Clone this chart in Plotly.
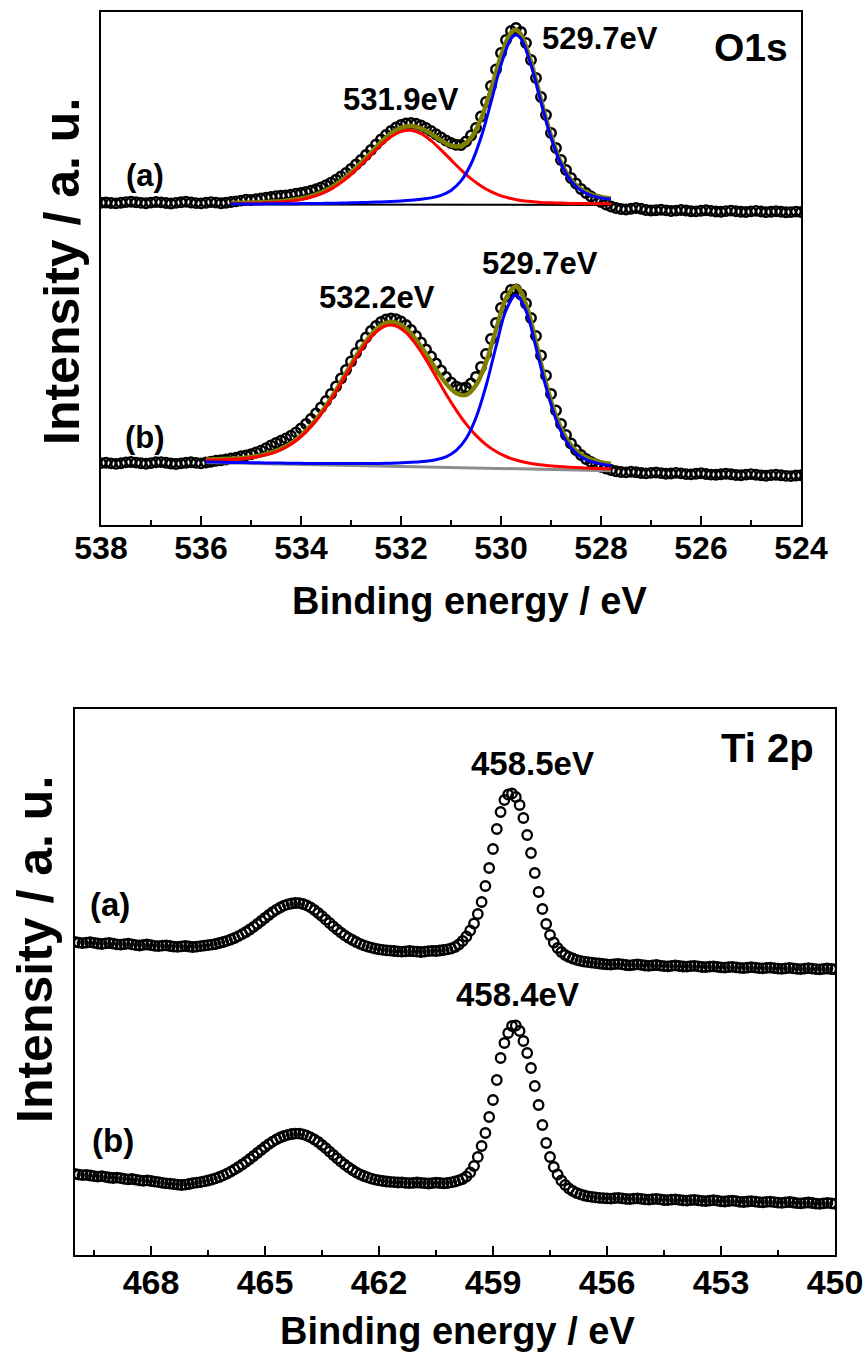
import numpy as np
import plotly.graph_objects as go

W, H = 865, 1358
FONT = "Liberation Sans, Arial, Helvetica, sans-serif"

# ---------------- O1s spectra (binding energy 538.0 -> 524.0 eV, step 0.1) ----------------
o1s_a = [
    318.3, 318.5, 318.0, 317.6, 318.2, 318.9, 319.3, 318.7, 318.1, 317.8,
    318.4, 319.0, 318.6, 318.0, 317.5, 318.1, 318.8, 319.2, 318.5, 317.9,
    317.6, 318.3, 318.9, 318.4, 317.8, 318.2, 319.0, 319.6, 320.4, 321.2,
    321.0, 321.8, 322.6, 323.4, 324.0, 324.9, 325.3, 325.6, 326.4, 327.2,
    328.0, 329.0, 330.3, 331.8, 333.6, 335.8, 338.3, 341.2, 344.5, 348.0,
    352.0, 356.5, 361.0, 366.0, 371.0, 376.5, 381.5, 386.0, 390.0, 393.5,
    396.0, 397.5, 398.0, 397.2, 395.5, 393.0, 390.0, 386.8, 383.6, 380.5,
    378.0, 376.2, 376.0, 379.5, 385.5, 393.0, 404.5, 419.0, 435.0, 451.5,
    468.0, 481.0, 490.0, 493.0, 489.0, 478.0, 461.0, 443.0, 424.0, 406.0,
    388.0, 373.0, 361.0, 351.0, 343.0, 337.5, 332.0, 328.0, 324.5, 321.5,
    319.0, 316.5, 314.5, 313.0, 312.0, 311.5, 312.3, 313.0, 312.2, 311.0,
    310.5, 310.8, 311.3, 310.6, 310.0, 310.4, 311.0, 310.5, 309.8, 309.6,
    310.2, 310.7, 310.1, 309.5, 309.3, 309.9, 310.4, 309.8, 309.2, 309.0,
    309.6, 310.1, 309.5, 308.9, 309.2, 309.8, 309.3, 308.7, 308.9, 309.4,
    309.0,
]
o1s_b = [
    57.9, 58.2, 57.6, 57.1, 57.8, 58.6, 59.0, 58.4, 57.7, 57.3,
    57.9, 58.7, 58.9, 58.2, 57.5, 57.0, 57.6, 58.3, 58.8, 58.1,
    57.6, 58.5, 59.3, 60.2, 60.8, 61.5, 62.6, 63.4, 64.8, 65.6,
    66.8, 68.5, 70.4, 72.8, 75.5, 78.0, 80.2, 82.6, 85.3, 88.6,
    92.5, 97.0, 102.0, 107.5, 113.5, 120.0, 127.0, 134.5, 142.5, 151.0,
    159.5, 168.0, 176.0, 183.5, 190.0, 195.0, 199.0, 201.5, 202.5, 201.8,
    199.5, 196.0, 191.0, 185.0, 178.5, 171.5, 164.5, 157.5, 150.5, 144.0,
    138.5, 134.5, 132.8, 133.5, 137.5, 144.0, 154.0, 167.0, 182.0, 198.0,
    213.0, 224.5, 231.0, 231.5, 226.5, 217.5, 203.0, 185.0, 165.5, 145.5,
    127.0, 110.5, 97.0, 86.0, 77.5, 71.0, 66.0, 62.0, 59.0, 56.5,
    54.3, 52.5, 51.0, 49.8, 49.0, 48.6, 49.2, 48.7, 48.0, 47.6,
    48.1, 48.5, 47.9, 47.2, 47.5, 48.1, 47.6, 46.9, 46.6, 47.2,
    47.7, 47.0, 46.4, 46.2, 46.8, 47.3, 46.7, 46.0, 45.8, 46.4,
    46.9, 46.2, 45.6, 45.3, 45.9, 46.3, 45.7, 45.1, 44.9, 45.5,
    45.8,
]
o1s_energy = np.round(538.0 - 0.1 * np.arange(len(o1s_a)), 1)
assert len(o1s_a) == len(o1s_b) == 141

# ---- O1s fits, spectrum (a) ----
fit_a_energy = [
    535.4, 535.2, 535.0, 534.8, 534.6, 534.4, 534.2, 534.0, 533.8, 533.6,
    533.4, 533.2, 533.0, 532.8, 532.6, 532.4, 532.2, 532.0, 531.8, 531.6,
    531.4, 531.2, 531.0, 530.8, 530.6, 530.4, 530.2, 530.0, 529.8, 529.7,
    529.6, 529.4, 529.2, 529.0, 528.8, 528.6, 528.4, 528.2, 528.0, 527.8,
]
fit_a_red = [
    317.4, 317.5, 317.7, 318.0, 318.4, 318.9, 319.9, 321.4, 323.7, 327.1,
    331.9, 338.4, 346.5, 356.0, 366.1, 376.0, 384.2, 389.4, 390.7, 387.3,
    380.4, 371.2, 361.1, 351.2, 342.3, 335.0, 329.3, 325.2, 322.5, 321.4,
    320.5, 319.4, 318.6, 318.2, 317.9, 317.6, 317.5, 317.3, 317.3, 317.2,
]
fit_a_blue = [
    316.9, 317.0, 317.0, 317.1, 317.2, 317.2, 317.3, 317.4, 317.5, 317.6,
    317.8, 317.9, 318.2, 318.4, 318.7, 319.1, 319.5, 320.0, 320.7, 321.7,
    323.1, 325.7, 330.6, 340.1, 357.0, 383.5, 418.8, 456.1, 482.3, 486.0,
    482.3, 456.1, 418.8, 383.5, 357.0, 340.1, 330.6, 325.7, 323.1, 321.7,
]
fit_a_sum = [
    318.0, 318.2, 318.4, 318.8, 319.3, 319.8, 320.9, 322.5, 324.9, 328.4,
    333.4, 340.0, 348.4, 358.1, 368.5, 378.8, 387.4, 393.1, 395.1, 392.7,
    387.2, 380.6, 375.4, 375.0, 383.0, 402.2, 431.8, 465.0, 488.5, 491.1,
    486.5, 459.2, 421.1, 385.4, 358.6, 341.4, 331.8, 326.7, 324.1, 322.6,
]
base_a_energy = [535.4, 527.8]
base_a = [316.5, 316.0]

# ---- O1s fits, spectrum (b) ----
fit_b_energy = [
    535.9, 535.7, 535.5, 535.3, 535.1, 534.9, 534.7, 534.5, 534.3, 534.1,
    533.9, 533.7, 533.5, 533.3, 533.1, 532.9, 532.7, 532.5, 532.3, 532.1,
    531.9, 531.7, 531.5, 531.3, 531.1, 530.9, 530.7, 530.5, 530.3, 530.1,
    529.9, 529.7, 529.5, 529.3, 529.1, 528.9, 528.7, 528.5, 528.3, 528.1,
    527.9, 527.8,
]
fit_b_red = [
    61.0, 61.1, 61.5, 61.9, 62.6, 64.0, 66.1, 69.2, 73.8, 80.3,
    89.1, 100.2, 113.9, 129.3, 146.2, 162.8, 177.6, 189.0, 195.3, 195.0,
    188.4, 176.6, 161.4, 144.3, 127.0, 111.2, 97.1, 85.6, 76.4, 69.5,
    64.5, 61.0, 58.5, 56.7, 55.6, 54.8, 54.0, 53.5, 53.1, 52.6,
    52.2, 52.1,
]
fit_b_blue = [
    59.0, 58.9, 58.7, 58.5, 58.4, 58.2, 58.1, 58.0, 57.8, 57.7,
    57.6, 57.5, 57.5, 57.4, 57.4, 57.4, 57.5, 57.6, 57.7, 58.0,
    58.4, 59.0, 59.8, 61.3, 64.2, 70.3, 82.2, 103.2, 135.0, 174.3,
    210.6, 226.0, 210.2, 173.5, 133.8, 101.6, 80.2, 67.9, 61.4, 58.1,
    56.1, 55.5,
]
fit_b_sum = [
    61.5, 61.7, 62.1, 62.5, 63.3, 64.7, 66.9, 70.1, 74.7, 81.3,
    90.2, 101.4, 115.3, 130.8, 147.9, 164.7, 179.8, 191.5, 198.1, 198.4,
    192.4, 181.4, 167.2, 151.8, 137.6, 128.1, 126.1, 135.8, 158.6, 191.2,
    222.7, 234.8, 216.7, 178.4, 137.8, 105.0, 83.0, 70.4, 63.7, 60.1,
    57.9, 57.3,
]
base_b_energy = [535.9, 527.8]
base_b = [58.5, 50.3]

# ---------------- Ti 2p spectra (470.0 -> 450.0 eV, step 0.1) ----------------
ti_a = [
    313.0, 312.4, 311.9, 312.3, 312.8, 312.1, 311.5, 311.0, 311.6, 312.0,
    311.4, 310.7, 310.3, 310.9, 311.3, 310.6, 309.9, 309.5, 310.1, 310.5,
    309.8, 309.2, 308.8, 309.3, 309.7, 309.0, 308.4, 308.1, 308.6, 309.0,
    308.5, 308.0, 308.3, 308.9, 309.4, 309.8, 310.3, 311.0, 312.0, 313.0,
    314.2, 315.5, 317.0, 318.8, 320.8, 323.0, 325.5, 328.2, 331.0, 334.0,
    337.0, 340.0, 342.8, 345.3, 347.5, 349.3, 350.6, 351.5, 352.0, 351.8,
    351.0, 349.6, 347.6, 345.0, 342.0, 338.8, 335.4, 332.0, 328.6, 325.4,
    322.4, 319.6, 317.2, 315.0, 313.0, 311.2, 309.7, 308.4, 307.3, 306.4,
    305.7, 305.1, 304.6, 304.3, 304.0, 303.6, 303.3, 303.6, 304.0, 303.7,
    303.3, 303.0, 303.4, 303.9, 304.2, 304.0, 304.5, 305.0, 305.6, 306.5,
    308.0, 310.5, 314.0, 318.5, 324.5, 331.5, 341.0, 353.0, 369.0, 387.0,
    406.0, 426.0, 443.0, 455.0, 460.5, 461.5, 458.0, 450.0, 437.0, 420.0,
    402.0, 382.0, 363.0, 346.0, 331.0, 320.0, 312.5, 307.0, 303.0, 300.0,
    298.0, 296.5, 295.2, 294.2, 293.4, 292.8, 292.3, 291.9, 291.5, 291.0,
    290.7, 290.4, 290.9, 291.2, 290.6, 290.0, 289.7, 290.2, 290.6, 290.1,
    289.5, 289.2, 289.7, 290.0, 289.4, 288.9, 288.7, 289.2, 289.6, 289.0,
    288.5, 288.3, 288.8, 289.1, 288.6, 288.0, 287.8, 288.3, 288.7, 288.2,
    287.6, 287.4, 287.9, 288.2, 287.7, 287.1, 286.9, 287.4, 287.8, 287.3,
    286.8, 286.6, 287.1, 287.4, 286.9, 286.4, 286.2, 286.7, 287.1, 286.6,
    286.1, 285.9, 286.4, 286.8, 286.3, 285.8, 285.6, 286.1, 286.5, 286.0,
    285.7,
]
ti_b = [
    81.0, 80.4, 79.8, 80.2, 79.5, 78.8, 78.3, 78.8, 78.2, 77.5,
    77.0, 77.4, 76.8, 76.1, 75.6, 76.0, 75.4, 74.7, 74.2, 74.6,
    74.0, 73.3, 72.8, 72.2, 71.7, 71.3, 70.8, 70.4, 70.0, 70.3,
    71.0, 71.8, 72.3, 72.8, 73.6, 74.5, 75.5, 76.6, 78.0, 79.6,
    81.4, 83.4, 85.6, 88.0, 90.5, 93.2, 96.0, 99.0, 102.0, 105.0,
    108.0, 110.8, 113.4, 115.6, 117.5, 119.0, 120.2, 121.0, 121.4, 121.3,
    120.6, 119.4, 117.7, 115.5, 113.0, 110.0, 106.8, 103.4, 100.0, 96.6,
    93.4, 90.4, 87.6, 85.0, 82.7, 80.7, 79.0, 77.6, 76.4, 75.4,
    74.6, 74.0, 73.5, 73.1, 72.8, 72.5, 72.6, 72.2, 71.8, 72.1,
    72.5, 72.2, 71.8, 71.5, 71.9, 72.3, 72.0, 71.7, 72.0, 72.6,
    73.5, 74.6, 76.0, 78.5, 82.5, 89.0, 98.0, 109.0, 122.0, 138.0,
    155.0, 175.0, 197.0, 212.0, 222.0, 229.0, 229.5, 224.0, 214.0, 202.0,
    187.0, 169.0, 150.0, 130.0, 112.0, 98.0, 88.0, 80.5, 74.5, 70.0,
    66.5, 64.0, 62.0, 60.6, 59.5, 58.7, 58.1, 57.6, 57.2, 56.9,
    56.6, 56.4, 56.9, 57.2, 56.7, 56.1, 55.8, 56.3, 56.7, 56.2,
    55.6, 55.3, 55.8, 56.1, 55.6, 55.0, 54.8, 55.3, 55.7, 55.2,
    54.6, 54.4, 54.9, 55.2, 54.7, 54.1, 53.9, 54.4, 54.8, 54.3,
    53.7, 53.5, 54.0, 54.3, 53.8, 53.2, 53.0, 53.5, 53.9, 53.4,
    52.8, 52.6, 53.1, 53.4, 52.9, 52.3, 52.1, 52.6, 53.0, 52.5,
    51.9, 51.7, 52.2, 52.5, 52.0, 51.4, 51.2, 51.7, 52.1, 51.6,
    51.1,
]
ti_energy = np.round(470.0 - 0.1 * np.arange(len(ti_a)), 1)
assert len(ti_a) == len(ti_b) == 201

o1s_ticks = [538, 536, 534, 532, 530, 528, 526, 524]
o1s_minor = [537, 535, 533, 531, 529, 527, 525]
ti_ticks = [468, 465, 462, 459, 456, 453, 450]
ti_minor = [469.5, 466.5, 463.5, 460.5, 457.5, 454.5, 451.5]

# ---------------- layout geometry (pixels) ----------------
TOP = dict(l=101, r=801, t=12, b=525)
BOT = dict(l=75, r=835, t=709, b=1255)


def fx(px):
    return px / W


def fy(py):
    return 1 - py / H


fig = go.Figure()

marker_o = dict(symbol="circle-open", size=9.5, color="black", line=dict(width=2.4, color="black"))
marker_t = dict(symbol="circle-open", size=9.5, color="black", line=dict(width=2.3, color="black"))

# O1s panel
for yv in (o1s_a, o1s_b):
    fig.add_trace(go.Scatter(x=o1s_energy, y=yv, mode="markers", marker=marker_o,
                             xaxis="x", yaxis="y", showlegend=False))
fig.add_trace(go.Scatter(x=base_a_energy, y=base_a, mode="lines", line=dict(color="black", width=2),
                         xaxis="x", yaxis="y", showlegend=False))
fig.add_trace(go.Scatter(x=base_b_energy, y=base_b, mode="lines", line=dict(color="#8c8c8c", width=3),
                         xaxis="x", yaxis="y", showlegend=False))
for ex, s, r, b in ((fit_a_energy, fit_a_sum, fit_a_red, fit_a_blue),
                    (fit_b_energy, fit_b_sum, fit_b_red, fit_b_blue)):
    fig.add_trace(go.Scatter(x=ex, y=s, mode="lines", line=dict(color="#808000", width=4.5, shape="spline"),
                             xaxis="x", yaxis="y", showlegend=False))
    fig.add_trace(go.Scatter(x=ex, y=r, mode="lines", line=dict(color="#ff0000", width=3, shape="spline"),
                             xaxis="x", yaxis="y", showlegend=False))
    fig.add_trace(go.Scatter(x=ex, y=b, mode="lines", line=dict(color="#0000ff", width=3, shape="spline"),
                             xaxis="x", yaxis="y", showlegend=False))

# Ti 2p panel
for yv in (ti_a, ti_b):
    fig.add_trace(go.Scatter(x=ti_energy, y=yv, mode="markers", marker=marker_t,
                             xaxis="x2", yaxis="y2", showlegend=False))

axis_common = dict(showline=True, linewidth=2, linecolor="black", mirror=True,
                   showgrid=False, zeroline=False, automargin=False)

fig.update_layout(
    width=W, height=H,
    margin=dict(l=0, r=0, t=0, b=0, pad=0, autoexpand=False),
    paper_bgcolor="white", plot_bgcolor="white",
    showlegend=False,
    xaxis=dict(domain=[fx(TOP["l"]), fx(TOP["r"])], range=[538, 524], anchor="y",
               tickmode="array", tickvals=o1s_ticks, ticks="inside", ticklen=9, tickwidth=2,
               tickcolor="black", ticklabeloverflow="allow", ticklabelstandoff=-6,
               minor=dict(tickmode="array", tickvals=o1s_minor, ticks="inside", ticklen=5,
                          tickwidth=2, tickcolor="black"),
               tickfont=dict(family=FONT, size=32, color="black", weight="bold"),
               **axis_common),
    yaxis=dict(domain=[fy(TOP["b"]), fy(TOP["t"])], range=[521 - TOP["b"], 521 - TOP["t"]],
               anchor="x", showticklabels=False, ticks="", **axis_common),
    xaxis2=dict(domain=[fx(BOT["l"]), fx(BOT["r"])], range=[470, 450], anchor="y2",
                tickmode="array", tickvals=ti_ticks, ticks="inside", ticklen=9, tickwidth=2,
                tickcolor="black", ticklabeloverflow="allow", ticklabelstandoff=-4,
                minor=dict(tickmode="array", tickvals=ti_minor, ticks="inside", ticklen=5,
                           tickwidth=2, tickcolor="black"),
                tickfont=dict(family=FONT, size=34, color="black", weight="bold"),
                **axis_common),
    yaxis2=dict(domain=[fy(BOT["b"]), fy(BOT["t"])], range=[0, BOT["b"] - BOT["t"]],
                anchor="x2", showticklabels=False, ticks="", **axis_common),
)

labels = [
    ("O1s", 751, 48, 39, 0),
    ("529.7eV", 600, 38, 31, 0),
    ("531.9eV", 401, 100, 31, 0),
    ("(a)", 145, 176, 31, 0),
    ("(b)", 145, 438, 31, 0),
    ("532.2eV", 377, 297, 31, 0),
    ("529.7eV", 540, 264, 31, 0),
    ("Binding energy / eV", 470, 601, 38, 0),
    ("Intensity / a. u.", 62, 272, 50, -90),
    ("Ti 2p", 767, 748, 40, 0),
    ("458.5eV", 532, 763, 33, 0),
    ("458.4eV", 517, 995, 33, 0),
    ("(a)", 110, 904, 33, 0),
    ("(b)", 113, 1140, 33, 0),
    ("Binding energy / eV", 458, 1331, 38, 0),
    ("Intensity / a. u.", 35, 950, 50, -90),
]
for text, px, py, size, ang in labels:
    fig.add_annotation(text=text, x=fx(px), y=fy(py), xref="paper", yref="paper",
                       xanchor="center", yanchor="middle", showarrow=False, textangle=ang,
                       font=dict(family=FONT, size=size, color="black", weight="bold"))

# remove the browser's default 8px body margin so the 865x1358 figure fills the window exactly
fig.write_html("out.html",
               config={"displayModeBar": False},
               post_script="document.body.style.margin='0px';document.body.style.overflow='hidden';")
